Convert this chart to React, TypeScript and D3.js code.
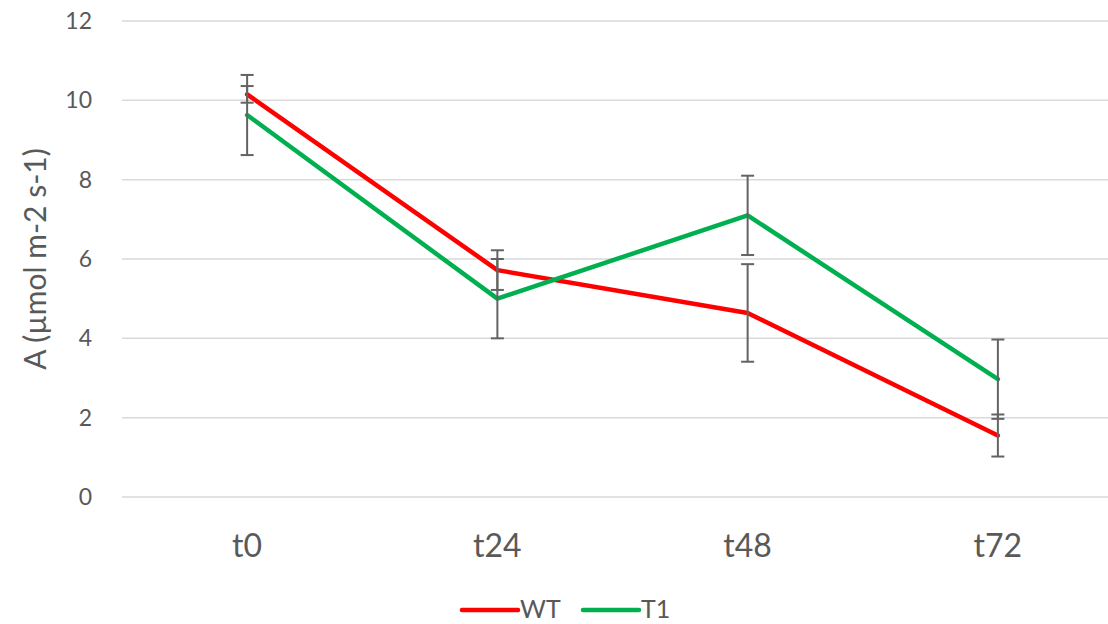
import React from "react";
import * as d3 from "d3";

const categories = ["t0", "t24", "t48", "t72"];
const wtValues = [10.15, 5.72, 4.64, 1.55];
const wtErrors = [0.21, 0.5, 1.23, 0.53];
const t1Values = [9.63, 5.0, 7.1, 2.97];
const t1Errors = [1.01, 1.0, 1.0, 1.0];
const yTicks = [0, 2, 4, 6, 8, 10, 12];

const W = 1108;
const H = 624;
const FONT = "Lato, 'Open Sans', sans-serif";
const TEXT = "#595959";

const series = [
  { name: "WT", color: "#ff0000", values: wtValues, errors: wtErrors },
  { name: "T1", color: "#00b050", values: t1Values, errors: t1Errors },
];

export default function App() {
  const x = d3.scaleBand<string>().domain(categories).range([122, 1123]);
  const y = d3.scaleLinear().domain([0, 12]).range([497, 21]);
  const cx = (c: string) => (x(c) ?? 0) + x.bandwidth() / 2;

  const line = d3
    .line<number>()
    .x((_, i) => cx(categories[i]))
    .y((v) => y(v));

  return (
    <svg
      width={W}
      height={H}
      style={{ position: "absolute", left: 0, top: 0, background: "#fff" }}
    >
      {yTicks.map((t) => (
        <g key={t}>
          <line
            x1={122}
            x2={1123}
            y1={y(t)}
            y2={y(t)}
            stroke="#d9d9d9"
            strokeWidth={1.5}
          />
          <text
            x={92}
            y={y(t)}
            dy="0.35em"
            textAnchor="end"
            fontFamily={FONT}
            fontSize={23}
            fill={TEXT}
          >
            {t}
          </text>
        </g>
      ))}

      {categories.map((c) => (
        <text
          key={c}
          x={cx(c)}
          y={557}
          textAnchor="middle"
          fontFamily={FONT}
          fontSize={32}
          fill={TEXT}
        >
          {c}
        </text>
      ))}

      <text
        transform={`translate(46, ${y(6)}) rotate(-90)`}
        textAnchor="middle"
        fontFamily={FONT}
        fontSize={30}
        fill={TEXT}
      >
        A (µmol m-2 s-1)
      </text>

      {series.map((s) => (
        <g key={s.name}>
          <path
            d={line(s.values) ?? ""}
            fill="none"
            stroke={s.color}
            strokeWidth={4.5}
            strokeLinejoin="round"
            strokeLinecap="round"
          />
          {s.values.map((v, i) => {
            const px = cx(categories[i]);
            const top = y(v + s.errors[i]);
            const bot = y(v - s.errors[i]);
            return (
              <g key={i} stroke="#636363" strokeWidth={2}>
                <line x1={px} x2={px} y1={top} y2={bot} />
                <line x1={px - 6.5} x2={px + 6.5} y1={top} y2={top} />
                <line x1={px - 6.5} x2={px + 6.5} y1={bot} y2={bot} />
              </g>
            );
          })}
        </g>
      ))}

      {series.map((s, i) => {
        const lx = 462 + i * 121;
        return (
          <g key={s.name}>
            <line
              x1={lx}
              x2={lx + 56}
              y1={610}
              y2={610}
              stroke={s.color}
              strokeWidth={4.5}
              strokeLinecap="round"
            />
            <text
              x={lx + 58}
              y={618}
              fontFamily={FONT}
              fontSize={25}
              fill={TEXT}
            >
              {s.name}
            </text>
          </g>
        );
      })}
    </svg>
  );
}
